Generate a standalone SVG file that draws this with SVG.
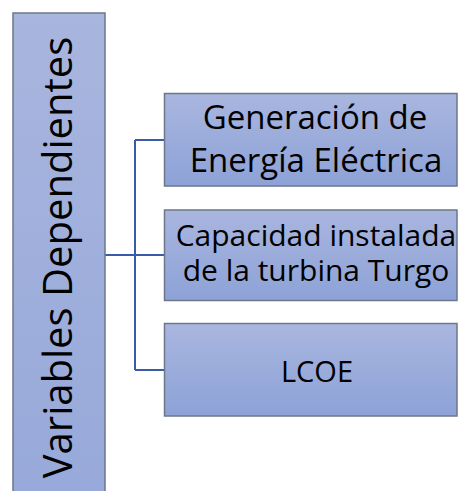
<svg xmlns="http://www.w3.org/2000/svg" width="458" height="491" viewBox="0 0 458 491">
  <defs>
    <linearGradient id="g" x1="0" y1="0" x2="0" y2="1">
      <stop offset="0" stop-color="#a9b6df"/>
      <stop offset="1" stop-color="#8da2d7"/>
    </linearGradient>
    <linearGradient id="gl" x1="0" y1="0" x2="0" y2="1">
      <stop offset="0" stop-color="#a8b5de"/>
      <stop offset="1" stop-color="#97a9da"/>
    </linearGradient>
    <style>
      .box { stroke: #6e7788; stroke-width: 1.5; }
      .t { font-family: "Open Sans", "Noto Sans", sans-serif; fill: #000; text-anchor: middle; }
      .con { fill: none; stroke: #3a5ba8; stroke-width: 2; }
    </style>
  </defs>
  <rect width="458" height="491" fill="#fff"/>
  <g id="connectors">
    <path class="con" d="M105 255 H135 M135 140 V370 M135 140 H164 M135 255 H164 M135 370 H164"/>
  </g>
  <g id="root">
    <rect class="box" x="13" y="13" width="92" height="490" fill="url(#gl)"/>
    <text class="t" transform="translate(72 257.5) rotate(-90)" x="0" y="0" font-size="40">Variables Dependientes</text>
  </g>
  <g id="n1">
    <rect class="box" x="164.5" y="93.5" width="292.5" height="92.5" fill="url(#g)"/>
    <text class="t" x="315" y="129" font-size="33">Generación de</text>
    <text class="t" x="316" y="172" font-size="33">Energía Eléctrica</text>
  </g>
  <g id="n2">
    <rect class="box" x="164.5" y="210" width="292.5" height="90.5" fill="url(#g)"/>
    <text class="t" x="316" y="246" font-size="30">Capacidad instalada</text>
    <text class="t" x="316" y="281" font-size="30">de la turbina Turgo</text>
  </g>
  <g id="n3">
    <rect class="box" x="164.5" y="323.5" width="292.5" height="92.5" fill="url(#g)"/>
    <text class="t" x="317" y="382" font-size="29">LCOE</text>
  </g>
</svg>
